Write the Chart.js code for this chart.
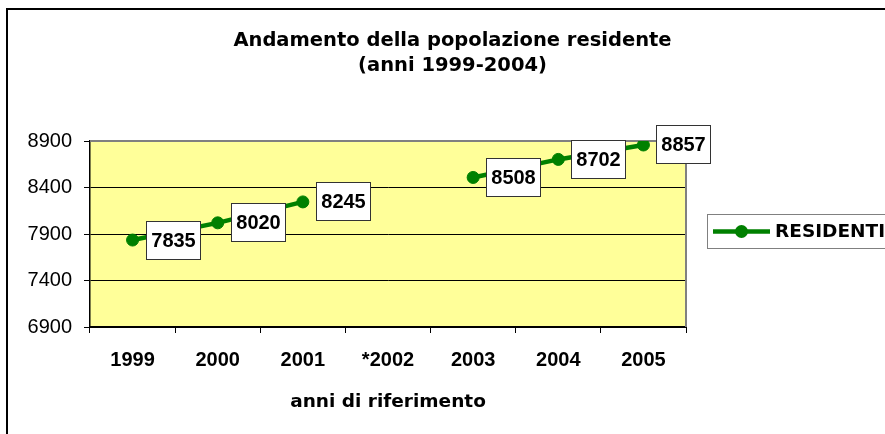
<!DOCTYPE html>
<html>
<head>
<meta charset="utf-8">
<script src="https://cdn.jsdelivr.net/npm/chart.js@4.4.1/dist/chart.umd.min.js"></script>
<style>
  body { margin: 0; background: #fff; }
  #wrap { width: 885px; height: 434px; }
</style>
</head>
<body>
<div id="wrap"><canvas id="chart"></canvas></div>
<script>
const CHART = document.getElementById("chart");

// data (2002 has no value, the line breaks there)
const YEARS = ["1999", "2000", "2001", "*2002", "2003", "2004", "2005"];
const RESIDENTI = [7835, 8020, 8245, null, 8508, 8702, 8857];
const Y_MIN = 6900;
const Y_MAX = 8900;
const Y_STEP = 500;

const GREEN = "#008000";

// white page, outer frame and yellow plot area
const frame = {
  id: "frame",
  beforeDraw(chart) {
    const { ctx, chartArea: a } = chart;
    ctx.save();
    ctx.fillStyle = "#fff";
    ctx.fillRect(0, 0, chart.width, chart.height);
    ctx.fillStyle = "#000";
    ctx.fillRect(6, 8, chart.width - 6, 2);
    ctx.fillRect(6, 8, 2, chart.height - 8);
    ctx.fillStyle = "#ffff99";
    ctx.fillRect(a.left, a.top, a.right - a.left, a.bottom - a.top);
    ctx.restore();
  },
  beforeDatasetsDraw(chart) {
    const { ctx, chartArea: a } = chart;
    ctx.save();
    ctx.strokeStyle = "#808080";
    ctx.lineWidth = 2;
    ctx.beginPath();
    ctx.moveTo(a.left, a.top);
    ctx.lineTo(a.right, a.top);
    ctx.lineTo(a.right, a.bottom);
    ctx.stroke();
    ctx.restore();
  },
};

// boxed value labels to the right of each point
const valueLabels = {
  id: "valueLabels",
  afterDatasetsDraw(chart) {
    const ctx = chart.ctx;
    const values = chart.data.datasets[0].data;
    const meta = chart.getDatasetMeta(0);
    ctx.save();
    ctx.font = "bold 20px 'Liberation Sans', Arial, sans-serif";
    ctx.textAlign = "center";
    ctx.textBaseline = "middle";
    meta.data.forEach((pt, i) => {
      const v = values[i];
      if (v == null) return;
      const txt = String(v);
      const w = Math.round(ctx.measureText(txt).width + 11);
      const h = 39;
      const x = Math.round(pt.x + 13);
      const y = Math.round(pt.y - h / 2);
      ctx.fillStyle = "#fff";
      ctx.fillRect(x, y, w, h);
      ctx.strokeStyle = "#333";
      ctx.lineWidth = 1;
      ctx.strokeRect(x + 0.5, y + 0.5, w - 1, h - 1);
      ctx.fillStyle = "#000";
      ctx.fillText(txt, x + w / 2, y + h / 2 + 1);
    });
    ctx.restore();
  },
};

// legend box on the right, partly cut by the page edge
const sideLegend = {
  id: "sideLegend",
  afterDraw(chart) {
    const ctx = chart.ctx;
    const ds = chart.data.datasets[0];
    const cy = 231.5;
    ctx.save();
    ctx.strokeStyle = "#808080";
    ctx.lineWidth = 1;
    ctx.strokeRect(707.5, 214.5, 220, 34);
    ctx.strokeStyle = ds.borderColor;
    ctx.lineWidth = 4.5;
    ctx.beginPath();
    ctx.moveTo(713, cy);
    ctx.lineTo(770, cy);
    ctx.stroke();
    ctx.fillStyle = ds.pointBackgroundColor;
    ctx.beginPath();
    ctx.arc(741.5, cy, 6.5, 0, Math.PI * 2);
    ctx.fill();
    ctx.fillStyle = "#000";
    ctx.font = "bold 18.5px 'DejaVu Sans', sans-serif";
    ctx.textBaseline = "middle";
    ctx.fillText(ds.label, 775, cy + 1);
    ctx.restore();
  },
};

let lineChart = new Chart(CHART, {
  type: "line",
  data: {
    labels: YEARS,
    datasets: [
      {
        label: "RESIDENTI",
        data: RESIDENTI,
        borderColor: GREEN,
        backgroundColor: GREEN,
        pointBackgroundColor: GREEN,
        pointBorderColor: GREEN,
        borderWidth: 4.5,
        pointRadius: 6,
        pointBorderWidth: 1,
        spanGaps: false,
        tension: 0,
      },
    ],
  },
  options: {
    responsive: true,
    maintainAspectRatio: false,
    animation: false,
    layout: { padding: { left: 20, right: 0, top: 10, bottom: 20.8 } },
    plugins: {
      legend: { display: false },
      tooltip: { enabled: false },
      title: {
        display: true,
        text: ["Andamento della popolazione residente", "(anni 1999-2004)"],
        color: "#000",
        font: { family: "'DejaVu Sans', sans-serif", size: 19.5, weight: "bold", lineHeight: 1.3 },
        padding: { top: 18, bottom: 62.3 },
      },
    },
    scales: {
      x: {
        offset: true,
        grid: {
          offset: true,
          drawOnChartArea: false,
          drawTicks: true,
          tickLength: 6,
          tickColor: "#000",
        },
        border: { color: "#000", width: 2 },
        ticks: {
          color: "#000",
          padding: 15,
          font: { family: "'Liberation Sans', Arial, sans-serif", size: 20, weight: "bold", lineHeight: 1.2 },
        },
        title: {
          display: true,
          text: "anni di riferimento",
          color: "#000",
          font: { family: "'DejaVu Sans', sans-serif", size: 18.5, weight: "bold", lineHeight: 1.2 },
          padding: { top: 4, bottom: 0 },
        },
      },
      y: {
        min: Y_MIN,
        max: Y_MAX,
        afterFit: (scale) => {
          scale.width = 70;
        },
        grid: {
          color: "#000",
          lineWidth: 1,
          tickLength: 6,
          tickColor: "#000",
        },
        border: { color: "#000", width: 1.5 },
        ticks: {
          stepSize: Y_STEP,
          color: "#000",
          padding: 12,
          font: { family: "'Liberation Sans', Arial, sans-serif", size: 20 },
          callback: (v) => String(v),
        },
      },
      // empty axis that only keeps room on the right for the legend
      side: {
        type: "linear",
        position: "right",
        display: true,
        grid: { display: false },
        border: { display: false },
        ticks: { display: false },
        afterFit: (scale) => {
          scale.width = 199;
        },
      },
    },
  },
  plugins: [frame, valueLabels, sideLegend],
});
</script>
</body>
</html>
